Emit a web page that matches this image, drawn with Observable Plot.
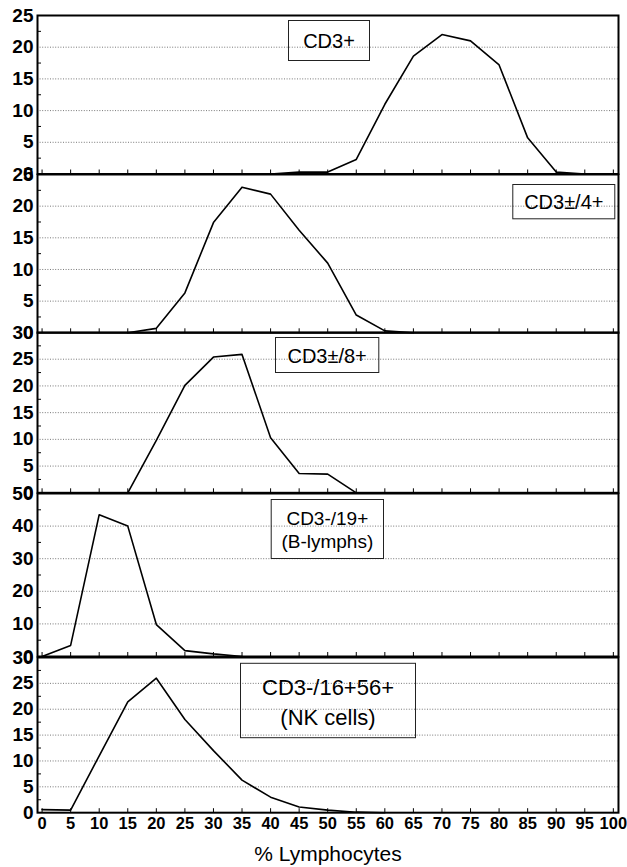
<!DOCTYPE html>
<html><head><meta charset="utf-8">
<script src="https://cdn.jsdelivr.net/npm/d3@7"></script>
<script src="https://cdn.jsdelivr.net/npm/@observablehq/plot@0.6"></script>
<style>
body{margin:0;background:#fff}
#chart{position:relative;width:627px;height:867px;font-family:"Liberation Sans",Arial,sans-serif}
</style>
</head><body><div id="chart"></div>
<script>
// x categories: % lymphocytes
const pct = [0,5,10,15,20,25,30,35,40,45,50,55,60,65,70,75,80,85,90,95,100];
// series values (frequency), aligned with pct; null = not drawn
const cd3   = [null,null,null,null,null,null,null,null,0,0.3,0.3,2.3,11,18.6,22,21,17.2,5.7,0.3,0,null];
const cd3cd4 = [null,null,null,0,0.7,6.3,17.4,23,21.9,16.2,11,2.8,0.3,0,null,null,null,null,null,null,null];
const cd3cd8 = [null,null,null,0,9.8,20.1,25.4,25.9,10.3,3.6,3.5,0,null,null,null,null,null,null,null,null,null];
const cd19  = [0,3.4,43.5,40,9.8,1.8,0.8,0,null,null,null,null,null,null,null,null,null,null,null,null,null];
const nk    = [0.6,0.5,11,21.4,26,18,12,6.3,3,1.1,0.5,0.1,0,null,null,null,null,null,null,null,null];
// panel labels and y-axis maxima / tick steps
const labels = ["CD3+", "CD3\u00b1/4+", "CD3\u00b1/8+", "CD3-/19+\n(B-lymphs)", "CD3-/16+56+\n(NK cells)"];
const yMax  = [25, 25, 30, 50, 30];
const yStep = [5, 5, 5, 10, 5];
const xTitle = "% Lymphocytes";

const series = [cd3, cd3cd4, cd3cd8, cd19, nk];

// layout (pixels)
const W = 627, ML = 37, MR = 9;
const frames = [[15,173.5],[174,332.3],[332.3,492.6],[493.3,656.3],[656.5,811.7]];
const boxes = [ // left, top, right, bottom, font size, line height
  [288, 20, 369, 60, 20, 1.2],
  [512.3, 184, 614.3, 218.3, 20, 1.2],
  [275, 337.3, 378.3, 372.3, 20, 1.2],
  [270.7, 499.3, 383, 558.3, 19, 1.23],
  [240, 662.3, 415, 736.7, 22, 1.36]
];
const FONT = "Liberation Sans, Arial, sans-serif";
const chart = document.getElementById("chart");

series.forEach((vals, i) => {
  const [top, bottom] = frames[i];
  const h = bottom - top;
  const last = i === series.length - 1;
  const mt = 14, mb = last ? 58 : 14;
  const fw = W - ML - MR;
  const data = pct.map((p, j) => ({p, v: vals[j]}));
  const major = d3.range(0, yMax[i] + yStep[i] / 2, yStep[i]);
  const grid = major.slice(1, -1);
  const minor = d3.range(yStep[i] / 2, yMax[i], yStep[i]);
  const [bl, bt, br, bb, fs, lh] = boxes[i];
  const marks = [
    Plot.gridY(grid, {stroke: "#555", strokeOpacity: 1, strokeWidth: 0.8, strokeDasharray: "1,1.6"}),
    Plot.tickY(minor, {stroke: "black", strokeWidth: 1, insetRight: fw - 4}),
    Plot.tickX(pct, {stroke: "black", strokeWidth: 1, insetTop: h - 4}),
    Plot.axisY(major, {tickSize: 0, tickPadding: 4, fontSize: 19, fontWeight: "bold", label: null, tickFormat: d => String(d)}),
    Plot.line(data, {x: "p", y: "v", stroke: "black", strokeWidth: 1.6}),
    Plot.frame({stroke: "black", strokeWidth: 2}),
    Plot.frame({stroke: "#222", strokeWidth: 1, insetLeft: bl - ML, insetRight: W - MR - br, insetTop: bt - top, insetBottom: bottom - bb}),
    Plot.text([labels[i]], {text: d => d, frameAnchor: "top-left", dx: (bl + br) / 2 - ML, dy: (bt + bb) / 2 - top,
      textAnchor: "middle", lineAnchor: "middle", fontSize: fs, lineHeight: lh, fill: "black"})
  ];
  if (last) {
    marks.push(Plot.axisX(pct, {tickSize: 0, tickPadding: 5, fontSize: 16.5, fontWeight: "bold", label: null, tickFormat: d => String(d)}));
    marks.push(Plot.text([xTitle], {text: d => d, frameAnchor: "bottom", dy: 48, lineAnchor: "bottom", fontSize: 21, fill: "black"}));
  }
  const svg = Plot.plot({
    width: W, height: h + mt + mb,
    marginLeft: ML, marginRight: MR, marginTop: mt, marginBottom: mb,
    style: {fontFamily: FONT, background: "transparent", overflow: "visible"},
    x: {domain: [-0.8, 100.9], label: null, axis: null},
    y: {domain: [0, yMax[i]], label: null, axis: null},
    marks
  });
  svg.style.position = "absolute";
  svg.style.left = "0px";
  svg.style.top = (top - mt) + "px";
  svg.style.maxWidth = "none";
  chart.appendChild(svg);
});
</script>
</body></html>
